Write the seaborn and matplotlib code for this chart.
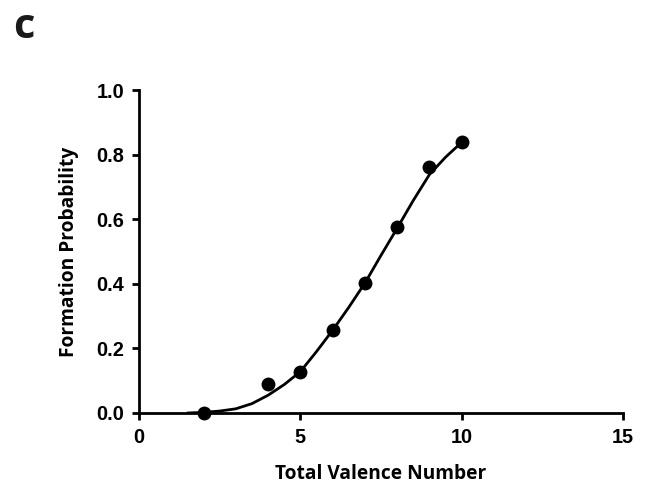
import matplotlib
matplotlib.use("Agg")
import matplotlib.pyplot as plt
import seaborn as sns
import pandas as pd

# Observed data points
valence = [2, 4, 5, 6, 7, 8, 9, 10]
probability = [0.0, 0.091, 0.126, 0.256, 0.403, 0.576, 0.762, 0.839]

# Fitted curve
curve_x = [1.5, 2.0, 2.5, 3.0, 3.5, 4.0, 4.5, 5.0, 5.5, 6.0, 6.5, 7.0,
           7.5, 8.0, 8.5, 9.0, 9.5, 10.0]
curve_y = [0.0, 0.002, 0.006, 0.013, 0.029, 0.055, 0.088, 0.128, 0.19,
           0.256, 0.327, 0.402, 0.488, 0.572, 0.658, 0.738, 0.792, 0.838]

x_ticks = [0, 5, 10, 15]
y_ticks = [0.0, 0.2, 0.4, 0.6, 0.8, 1.0]

sns.set_style("ticks")
plt.rcParams['font.family'] = ['Open Sans', 'DejaVu Sans']
plt.rcParams['text.color'] = 'black'
plt.rcParams['axes.labelcolor'] = 'black'

pts = pd.DataFrame({"x": valence, "y": probability})
crv = pd.DataFrame({"x": curve_x, "y": curve_y})

fig = plt.figure(figsize=(6.52, 4.86), dpi=100)
ax = fig.add_axes([139 / 652, 1 - 413 / 486, (623 - 139) / 652, (413 - 90) / 486])

sns.lineplot(data=crv, x="x", y="y", ax=ax, color="black", linewidth=2.0,
             estimator=None, sort=False, zorder=3)
sns.scatterplot(data=pts, x="x", y="y", ax=ax, color="black", s=100,
                edgecolor="black", linewidth=0, zorder=4, clip_on=False)

ax.set_xlim(0, 15)
ax.set_ylim(0, 1.0)
ax.set_xticks(x_ticks)
ax.set_yticks(y_ticks)
ax.set_yticklabels([f"{v:.1f}" for v in y_ticks])
ax.set_xticklabels([str(v) for v in x_ticks])
for lab in ax.get_xticklabels() + ax.get_yticklabels():
    lab.set_family(['Liberation Sans', 'DejaVu Sans'])
    lab.set_fontweight('bold')
    lab.set_fontsize(14.3)
    lab.set_color('black')

sns.despine(ax=ax)
for side in ["left", "bottom"]:
    ax.spines[side].set_linewidth(2.0)
    ax.spines[side].set_color("black")
ax.tick_params(axis="both", direction="out", length=5.2, width=2.0,
               colors="black", pad=5.5)

ax.set_xlabel("Total Valence Number", fontsize=13.8, fontweight="bold",
              labelpad=12.5, color="black")
ax.set_ylabel("Formation Probability", fontsize=13.8, fontweight="bold",
              labelpad=12.5, color="black")

fig.text(13 / 652, 1 - 38 / 486, "c", fontsize=30, fontweight="bold",
         color="#1a1a1a")

fig.savefig("out.png", dpi=100)
